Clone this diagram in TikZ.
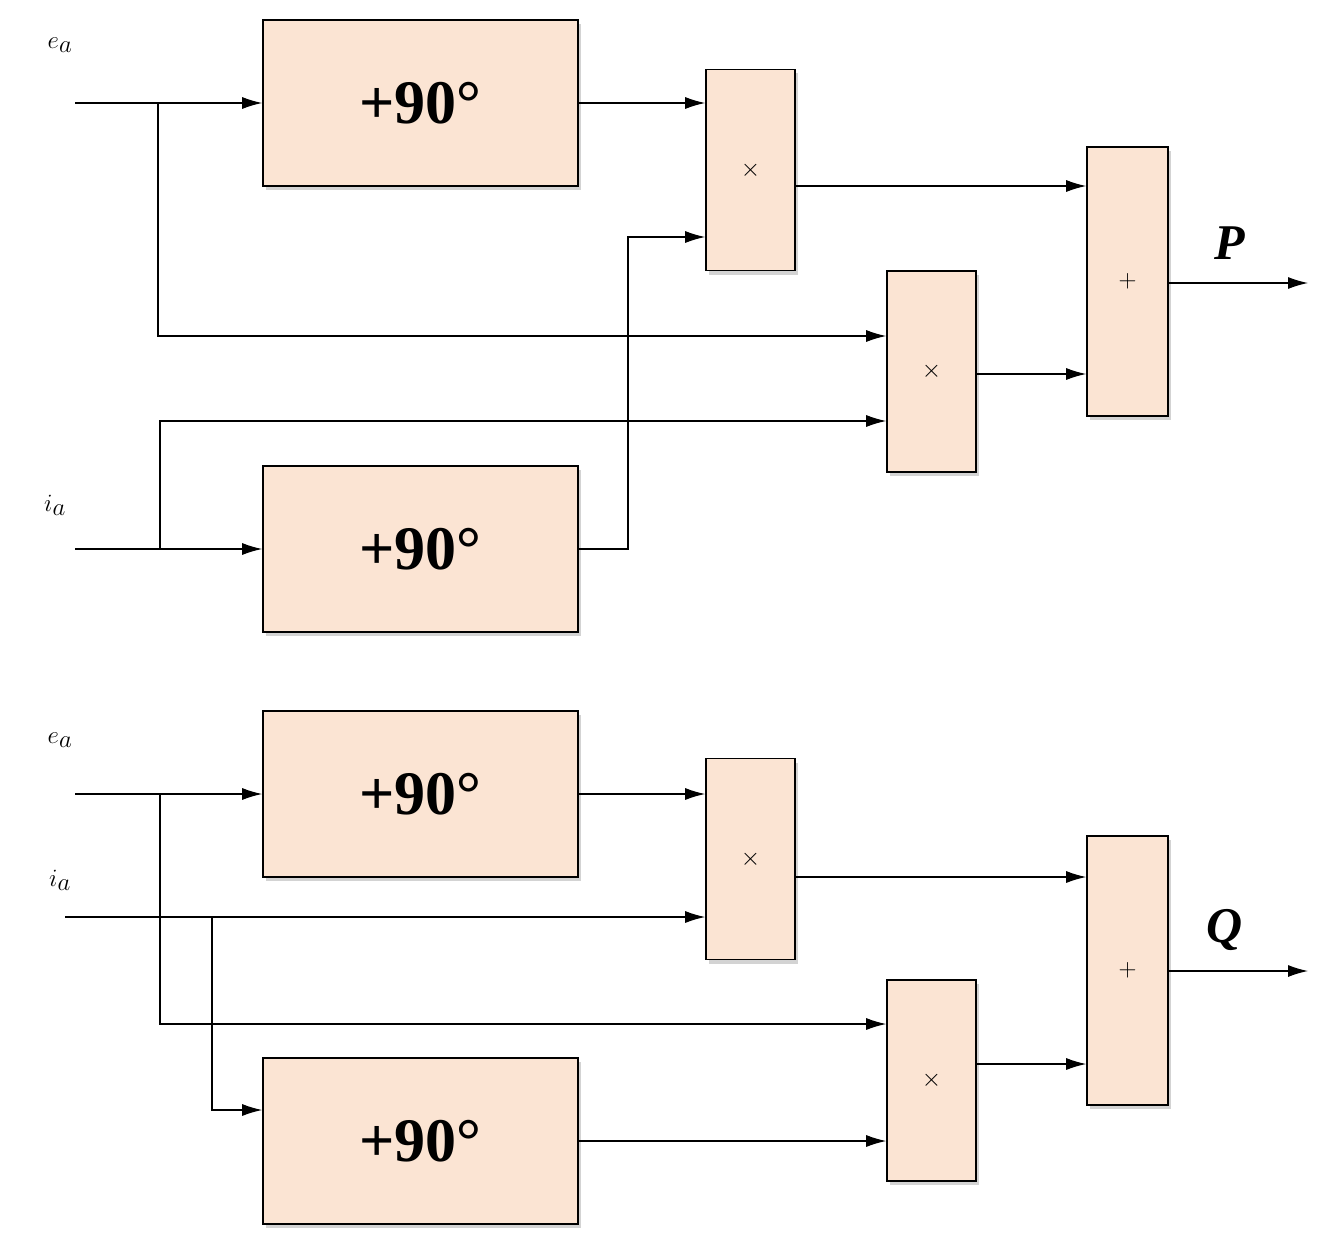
\documentclass[tikz,border=0pt]{standalone}
\usepackage{fontspec}
\setmainfont{Liberation Serif}
\usetikzlibrary{arrows.meta,shadows}
\begin{document}
\begin{tikzpicture}[x=1pt,y=-1pt,
 blk/.style={draw,line width=1.6pt,fill={rgb,255:red,251;green,228;blue,211},drop shadow={shadow xshift=3pt,shadow yshift=-4pt,opacity=0.35},inner sep=0pt},
 ph/.style={blk,minimum width=315pt,minimum height=166pt,font=\fontsize{62}{62}\selectfont\bfseries},
 mul/.style={blk,minimum width=89pt,minimum height=201pt,font=\fontsize{64}{64}\selectfont},
 sm/.style={blk,minimum width=81pt,minimum height=269pt,font=\fontsize{80}{80}\selectfont},
 ar/.style={-{Latex[length=20pt,width=12pt]},line width=1.2pt},
 ln/.style={line width=1.2pt},
 lab/.style={font=\fontsize{46}{46}\selectfont}]
\useasboundingbox (0,0) rectangle (1331,1255);
% top
\node[ph] (b1) at (420.5,103) {+90°};
\node[ph] (b2) at (420.5,549) {+90°};
\node[mul] (m1) at (750.5,170) {$\times$};
\node[mul] (m2) at (931.5,371.5) {$\times$};
\node[sm] (s1) at (1127.5,281.5) {$+$};
\node[lab] (ea1) at (60,45) {$e_a$};
\node[lab] (ia1) at (55,505) {$i_a$};
\coordinate (e1) at (75,103);
\coordinate (i1) at (75,549);
\coordinate (P) at (1308,283);
\draw[ar] (e1) -- (b1.west);
\draw[ar] (158,103) -- (158,336) -- (m2.west |- 0,336);
\draw[ar] (b1.east) -- (m1.west |- b1.east);
\draw[ar] (i1) -- (b2.west);
\draw[ar] (160,549) -- (160,421) -- (m2.west |- 0,421);
\draw[ar] (b2.east) -- (628,549) -- (628,237) -- (m1.west |- 0,237);
\draw[ar] (m1.east |- 0,186) -- (s1.west |- 0,186);
\draw[ar] (m2.east |- 0,374) -- (s1.west |- 0,374);
\draw[ar] (s1.east |- P) -- (P);
\node[lab,font=\fontsize{50}{50}\selectfont\bfseries\itshape] (pl) at (1230,243) {P};
% bottom
\node[ph] (b3) at (420.5,794) {+90°};
\node[ph] (b4) at (420.5,1141) {+90°};
\node[mul] (m3) at (750.5,859) {$\times$};
\node[mul] (m4) at (931.5,1080.5) {$\times$};
\node[sm] (s2) at (1127.5,970.5) {$+$};
\node[lab] (ea2) at (60,740) {$e_a$};
\node[lab] (ia2) at (60,880) {$i_a$};
\coordinate (e2) at (75,794);
\coordinate (i2) at (65,917);
\coordinate (Q) at (1308,971);
\draw[ar] (e2) -- (b3.west);
\draw[ar] (b3.east) -- (m3.west |- b3.east);
\draw[ar] (160,794) -- (160,1024) -- (m4.west |- 0,1024);
\draw[ar] (i2) -- (m3.west |- i2);
\draw[ar] (212,917) -- (212,1110) -- (b4.west |- 0,1110);
\draw[ar] (b4.east |- 0,1141) -- (m4.west |- 0,1141);
\draw[ar] (m3.east |- 0,877) -- (s2.west |- 0,877);
\draw[ar] (m4.east |- 0,1064) -- (s2.west |- 0,1064);
\draw[ar] (s2.east |- Q) -- (Q);
\node[lab,font=\fontsize{50}{50}\selectfont\bfseries\itshape] (ql) at (1225,930) {Q};
\end{tikzpicture}
\end{document}
